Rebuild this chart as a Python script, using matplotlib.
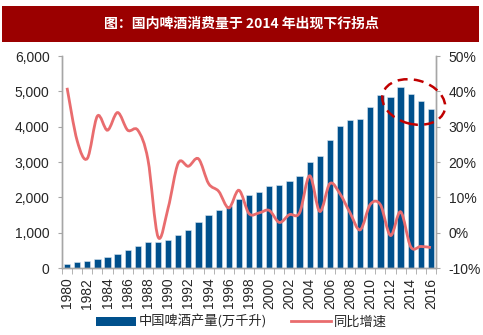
import numpy as np
import matplotlib
matplotlib.use('Agg')
import matplotlib.pyplot as plt
from matplotlib.path import Path
from matplotlib.patches import PathPatch, Rectangle, Ellipse, Patch
from matplotlib.lines import Line2D
from matplotlib.ticker import FuncFormatter

plt.rcParams['font.family'] = ['Liberation Sans', 'Noto Sans CJK SC', 'DejaVu Sans']

# data
years = list(range(1980, 2017))
output = [113, 170, 195, 246, 300, 387, 500, 622, 736, 736,
          792, 925, 1075, 1302, 1491, 1632, 1755, 1944, 2076, 2151,
          2312, 2359, 2453, 2590, 3000, 3170, 3623, 4019, 4189, 4227,
          4548, 4887, 4830, 5133, 4925, 4718, 4510]
growth = [41.0, 26.0, 21.0, 33.0, 29.0, 34.0, 29.0, 29.0, 20.7, -1.2,
          7.0, 19.7, 18.8, 20.9, 13.9, 11.7, 7.0, 12.0, 5.4, 5.6,
          6.3, 2.9, 5.1, 5.6, 16.1, 6.0, 13.9, 11.0, 5.6, 0.8,
          8.0, 7.9, -0.8, 5.9, -4.0, -3.9, -4.2]
title = '图：国内啤酒消费量于 2014 年出现下行拐点'
bar_label = '中国啤酒产量(万千升)'
line_label = '同比增速'

BAR_C = '#00508C'
LINE_C = '#E96C6E'
GRID_C = '#A6A6A6'
TXT_C = '#262626'


def smooth_path(xs, ys, k=1/6):
    # excel style smoothed line: bezier segments with catmull-rom handles
    pts = np.column_stack([xs, ys]).astype(float)
    n = len(pts)
    verts = [pts[0]]
    codes = [Path.MOVETO]
    for i in range(n - 1):
        p0 = pts[max(i - 1, 0)]
        p1 = pts[i]
        p2 = pts[i + 1]
        p3 = pts[min(i + 2, n - 1)]
        c1 = p1 + (p2 - p0) * k
        c2 = p2 - (p3 - p1) * k
        verts += [c1, c2, p2]
        codes += [Path.CURVE4] * 3
    return Path(verts, codes)


fig = plt.figure(figsize=(4.83, 3.35), dpi=100)
ax = fig.add_axes([0.1284, 0.2, 0.7743, 0.6328])
ax2 = ax.twinx()

x = np.arange(len(years))
ax.bar(x, output, width=0.62, color=BAR_C, edgecolor='#DCE6F0', linewidth=0.4, zorder=2)
ax.set_xlim(-0.5, len(years) - 0.5)
ax.set_ylim(0, 6000)
ax.set_yticks(range(0, 6001, 1000))
ax.yaxis.set_major_formatter(FuncFormatter(lambda v, p: f'{int(v):,}'))

ax.set_xticks(x[::2])
ax.set_xticklabels([str(y) for y in years[::2]], rotation=90)
ax.set_xticks(np.arange(len(years) + 1) - 0.5, minor=True)
ax.tick_params(axis='x', which='major', length=0, pad=7, labelsize=10, colors=TXT_C)
ax.tick_params(axis='x', which='minor', length=4, color=GRID_C)
ax.tick_params(axis='y', length=3, pad=6, labelsize=10, colors=TXT_C, color=GRID_C)

ax2.set_ylim(-10, 50)
ax2.set_yticks(range(-10, 51, 10))
ax2.yaxis.set_major_formatter(FuncFormatter(lambda v, p: f'{int(v)}%'))
ax2.tick_params(axis='y', length=3, pad=6, labelsize=10, colors=TXT_C, color=GRID_C)
ax2.add_patch(PathPatch(smooth_path(x, growth), facecolor='none',
                        edgecolor=LINE_C, linewidth=2, zorder=3))

for a in (ax, ax2):
    a.spines['top'].set_visible(False)
    for s in ('left', 'right', 'bottom'):
        a.spines[s].set_color(GRID_C)
        a.spines[s].set_linewidth(1)

# title band
fig.patches.append(Rectangle((2 / 483, 1 - 42 / 335), 477 / 483, 36 / 335,
                             transform=fig.transFigure, facecolor='#9B0000',
                             edgecolor='none'))
fig.text(0.5, 1 - 24 / 335, title, color='white', fontsize=10, fontweight='bold',
         ha='center', va='center', family=['Noto Sans CJK SC', 'DejaVu Sans'])

# dashed highlight around 2011-2016
fig.patches.append(Ellipse((4.137, 2.33), 0.64, 0.44, angle=-15,
                           transform=fig.dpi_scale_trans, facecolor='none',
                           edgecolor='#C00000', linewidth=1.8,
                           linestyle=(0, (4, 2.5)), zorder=5))

handles = [Patch(facecolor=BAR_C, edgecolor='none'),
           Line2D([0], [0], color=LINE_C, linewidth=2)]
fig.legend(handles, [bar_label, line_label], loc='center', bbox_to_anchor=(0.5, 0.039),
           ncol=2, frameon=False, handlelength=3, handletextpad=0.25,
           columnspacing=1.8, prop={'family': ['Noto Sans CJK SC'], 'size': 9.5},
           labelcolor=TXT_C)

fig.savefig('out.png', dpi=100)
